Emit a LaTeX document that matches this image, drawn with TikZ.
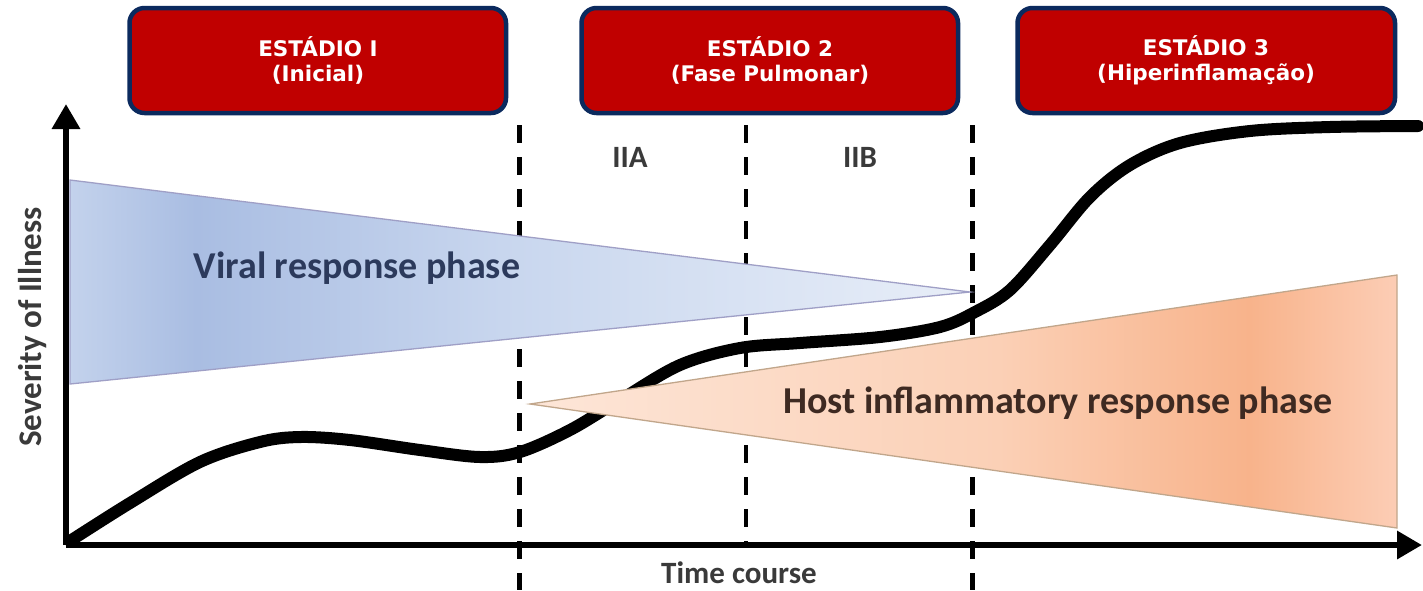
\documentclass[tikz,border=0pt]{standalone}
\usepackage{fontspec}
\setmainfont{Carlito}
\newfontfamily\boxfont{DejaVu Sans}
\usetikzlibrary{arrows.meta}
\definecolor{stagered}{HTML}{C00000}
\definecolor{stageborder}{HTML}{0B2A5E}
\definecolor{vbA}{HTML}{C3D2EC}
\definecolor{vbB}{HTML}{A9BDE2}
\definecolor{vbM}{HTML}{C8D6EE}
\definecolor{vbC}{HTML}{E8EEF8}
\definecolor{obA}{HTML}{FDE6D8}
\definecolor{obB}{HTML}{FBD0B6}
\definecolor{obC}{HTML}{F8B38B}
\definecolor{obD}{HTML}{FCCDB5}
\definecolor{viraltext}{HTML}{2C3A5C}
\definecolor{hosttext}{HTML}{3E2A22}
\definecolor{axistext}{HTML}{3A3A3A}
\pgfdeclarehorizontalshading{viralshade}{100bp}{color(0bp)=(vbA); color(25bp)=(vbA); color(32bp)=(vbB); color(49bp)=(vbM); color(75bp)=(vbC); color(100bp)=(vbC)}
\pgfdeclarehorizontalshading{hostshade}{100bp}{color(0bp)=(obA); color(25bp)=(obA); color(52bp)=(obB); color(66.5bp)=(obC); color(75bp)=(obD); color(100bp)=(obD)}
\tikzset{
  stagebox/.style={draw=stageborder, line width=4.5pt, fill=stagered, rounded corners=15pt},
  stagetext/.style={text=white, font=\boxfont\bfseries\fontsize{21.5}{25}\selectfont, align=center},
  divider/.style={line width=5pt, dash pattern=on 18pt off 14pt},
  thindivider/.style={line width=3.5pt, dash pattern=on 18pt off 14pt},
  axisline/.style={line width=6.5pt, -{Triangle[length=25pt,width=27pt]}},
  phase/.style={font=\bfseries\fontsize{38}{44}\selectfont},
  axislabel/.style={text=axistext, font=\bfseries\fontsize{31}{36}\selectfont},
}
\begin{document}
\begin{tikzpicture}[x=1pt,y=-1pt]
\useasboundingbox[fill=white] (0,0) rectangle (1423,590);
% dividers
\coordinate (d1t) at (519,125); \coordinate (d1b) at (519,590);
\coordinate (d2t) at (746,125); \coordinate (d2b) at (746,545);
\coordinate (d3t) at (972,125); \coordinate (d3b) at (972,590);
\draw[divider] (d1t) -- (d1b);
\draw[thindivider] (d2t) -- (d2b);
\draw[divider] (d3t) -- (d3b);
% axes
\coordinate (origin) at (66,545);
\coordinate (ytip) at (66,104);
\coordinate (xtip) at (1422,545);
\draw[axisline] (origin) -- (ytip);
\draw[axisline] (origin) -- (xtip);
% severity curve
\draw[line width=12pt, line cap=round, line join=round] plot[smooth, tension=0.55] coordinates {
 (70,541) (130,503) (200,462) (260,442) (300,437) (350,440) (420,450) (480,457) (520,452)
 (570,430) (620,400) (680,365) (740,348) (800,343) (880,337) (940,327) (975,312)
 (1010,290) (1050,245) (1090,197) (1130,165) (1180,143) (1250,131) (1330,127) (1418,126)};
% phase wedges
\shadedraw[shading=viralshade, draw=gray!75!blue!60, line width=1.3pt] (70,180) -- (970,292) -- (70,384) -- cycle;
\shadedraw[shading=hostshade, draw=brown!60!gray!70, line width=1.3pt] (530,404) -- (1397,275) -- (1397,528) -- cycle;
% labels
\node[phase, text=viraltext] (viral) at (357,268) {Viral response phase};
\node[phase, text=hosttext] (host) at (1058,403) {Host inflammatory response phase};
\node[axislabel, rotate=90, font=\bfseries\fontsize{33}{38}\selectfont] (sev) at (33,327) {Severity of Illness};
\node[axislabel] (time) at (739,573) {Time course};
\node[axislabel] (iia) at (630,157) {IIA};
\node[axislabel] (iib) at (860,157) {IIB};
% stage boxes
\draw[stagebox] (129.5,8) rectangle (506,113);
\draw[stagebox] (581.5,8) rectangle (958,113);
\draw[stagebox] (1017.5,8) rectangle (1395,113);
\node[stagetext] (s1) at (318,60) {ESTÁDIO I\\(Inicial)};
\node[stagetext] (s2) at (770,60) {ESTÁDIO 2\\(Fase Pulmonar)};
\node[stagetext] (s3) at (1206,60) {ESTÁDIO 3\\(Hiperinflamação)};
\end{tikzpicture}
\end{document}
